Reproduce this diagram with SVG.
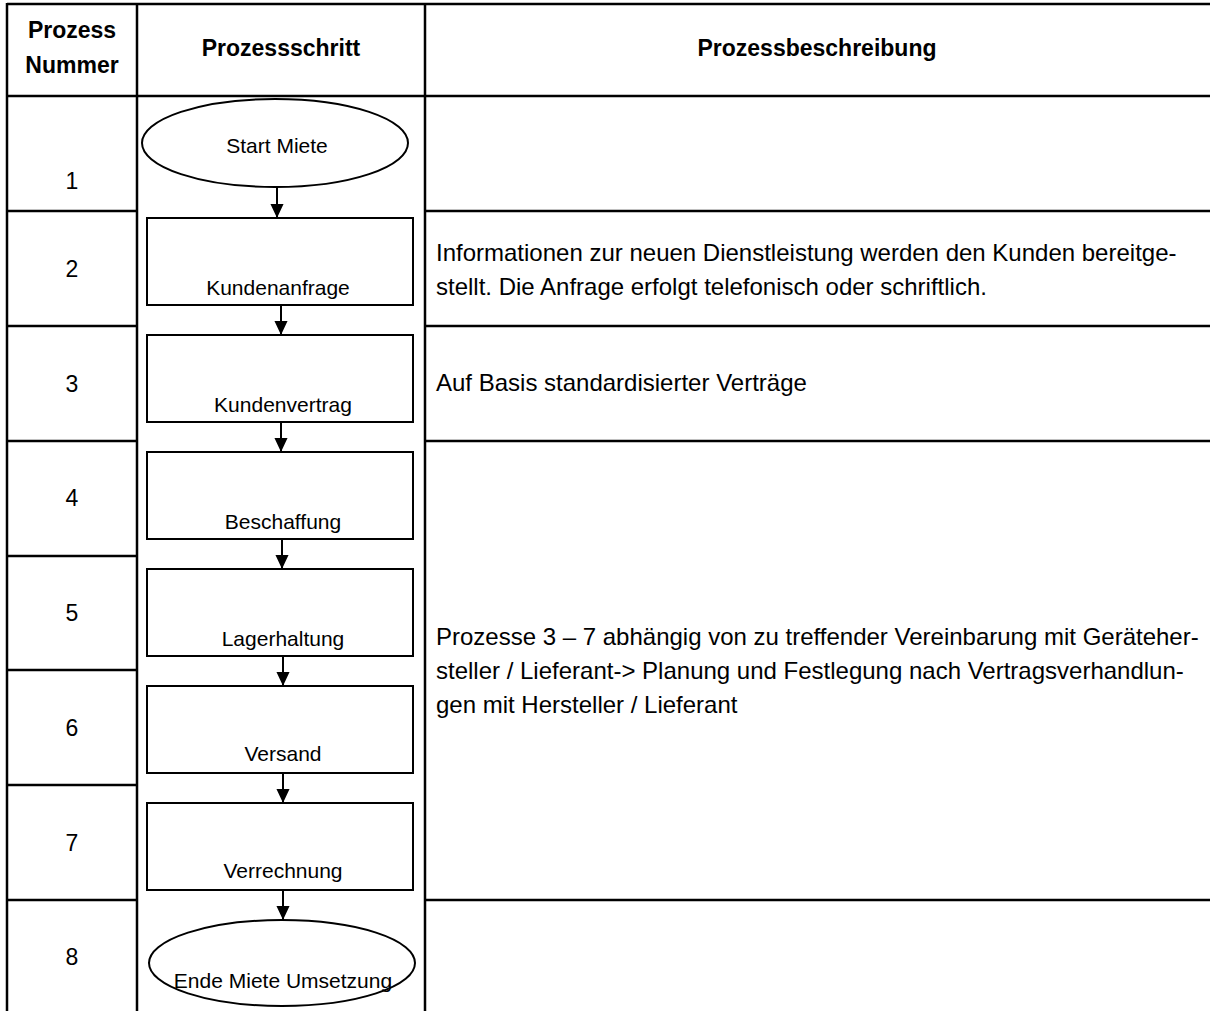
<svg xmlns="http://www.w3.org/2000/svg" width="1210" height="1011" viewBox="0 0 1210 1011">
<defs>
<style>
.grid{stroke:#000;stroke-width:2.5;fill:none}
.shape{stroke:#000;stroke-width:2;fill:#fff}
.hd{font-family:"Liberation Sans",Arial,sans-serif;font-weight:bold;font-size:23px;fill:#000;text-anchor:middle}
.num{font-family:"Liberation Sans",Arial,sans-serif;font-size:23px;fill:#000;text-anchor:middle}
.lbl{font-family:"Liberation Sans",Arial,sans-serif;font-size:21px;fill:#000;text-anchor:middle}
.desc{font-family:"Liberation Sans",Arial,sans-serif;font-size:24px;fill:#000}
.conn{stroke:#000;stroke-width:2;fill:none}
</style>
<marker id="ah" markerWidth="14" markerHeight="15" viewBox="0 0 15 14" refX="15" refY="7" orient="auto" markerUnits="userSpaceOnUse">
<path d="M0,0 L15,7 L0,14 Z" fill="#000"/>
</marker>
</defs>
<rect width="1210" height="1011" fill="#fff"/>
<g id="table">
<line class="grid" x1="7" y1="4" x2="1210" y2="4"/>
<line class="grid" x1="7" y1="96" x2="1210" y2="96"/>
<line class="grid" x1="7" y1="3" x2="7" y2="1011"/>
<line class="grid" x1="137" y1="3" x2="137" y2="1011"/>
<line class="grid" x1="425" y1="3" x2="425" y2="1011"/>
<line class="grid" x1="7" y1="211" x2="137" y2="211"/>
<line class="grid" x1="425" y1="211" x2="1210" y2="211"/>
<line class="grid" x1="7" y1="326" x2="137" y2="326"/>
<line class="grid" x1="425" y1="326" x2="1210" y2="326"/>
<line class="grid" x1="7" y1="441" x2="137" y2="441"/>
<line class="grid" x1="425" y1="441" x2="1210" y2="441"/>
<line class="grid" x1="7" y1="556" x2="137" y2="556"/>
<line class="grid" x1="7" y1="670" x2="137" y2="670"/>
<line class="grid" x1="7" y1="785" x2="137" y2="785"/>
<line class="grid" x1="7" y1="900" x2="137" y2="900"/>
<line class="grid" x1="425" y1="900" x2="1210" y2="900"/>
<text class="hd" x="72" y="38">Prozess</text>
<text class="hd" x="72" y="73">Nummer</text>
<text class="hd" x="281" y="56">Prozessschritt</text>
<text class="hd" x="817" y="56">Prozessbeschreibung</text>
<text class="num" x="72" y="189">1</text>
<text class="num" x="72" y="277">2</text>
<text class="num" x="72" y="392">3</text>
<text class="num" x="72" y="506">4</text>
<text class="num" x="72" y="621">5</text>
<text class="num" x="72" y="736">6</text>
<text class="num" x="72" y="851">7</text>
<text class="num" x="72" y="965">8</text>
<text class="desc" x="436" y="261">Informationen zur neuen Dienstleistung werden den Kunden bereitge-</text>
<text class="desc" x="436" y="295">stellt. Die Anfrage erfolgt telefonisch oder schriftlich.</text>
<text class="desc" x="436" y="391">Auf Basis standardisierter Verträge</text>
<text class="desc" x="436" y="645">Prozesse 3 – 7 abhängig von zu treffender Vereinbarung mit Geräteher-</text>
<text class="desc" x="436" y="679">steller / Lieferant-&gt; Planung und Festlegung nach Vertragsverhandlun-</text>
<text class="desc" x="436" y="713">gen mit Hersteller / Lieferant</text>
</g>
<g id="connectors">
<line class="conn" x1="277" y1="187" x2="277" y2="218" marker-end="url(#ah)"/>
<line class="conn" x1="281" y1="305" x2="281" y2="335" marker-end="url(#ah)"/>
<line class="conn" x1="281" y1="422" x2="281" y2="452" marker-end="url(#ah)"/>
<line class="conn" x1="282" y1="539" x2="282" y2="569" marker-end="url(#ah)"/>
<line class="conn" x1="283" y1="656" x2="283" y2="686" marker-end="url(#ah)"/>
<line class="conn" x1="283" y1="773" x2="283" y2="803" marker-end="url(#ah)"/>
<line class="conn" x1="283" y1="890" x2="283" y2="920" marker-end="url(#ah)"/>
</g>
<g id="n1"><ellipse class="shape" cx="275" cy="143" rx="133" ry="44"/><text class="lbl" x="277" y="153">Start Miete</text></g>
<g id="n2"><rect class="shape" x="147" y="218" width="266" height="87"/><text class="lbl" x="278" y="295">Kundenanfrage</text></g>
<g id="n3"><rect class="shape" x="147" y="335" width="266" height="87"/><text class="lbl" x="283" y="412">Kundenvertrag</text></g>
<g id="n4"><rect class="shape" x="147" y="452" width="266" height="87"/><text class="lbl" x="283" y="529">Beschaffung</text></g>
<g id="n5"><rect class="shape" x="147" y="569" width="266" height="87"/><text class="lbl" x="283" y="646">Lagerhaltung</text></g>
<g id="n6"><rect class="shape" x="147" y="686" width="266" height="87"/><text class="lbl" x="283" y="761">Versand</text></g>
<g id="n7"><rect class="shape" x="147" y="803" width="266" height="87"/><text class="lbl" x="283" y="878">Verrechnung</text></g>
<g id="n8"><ellipse class="shape" cx="282" cy="963" rx="133" ry="43"/><text class="lbl" x="283" y="988">Ende Miete Umsetzung</text></g>
</svg>
